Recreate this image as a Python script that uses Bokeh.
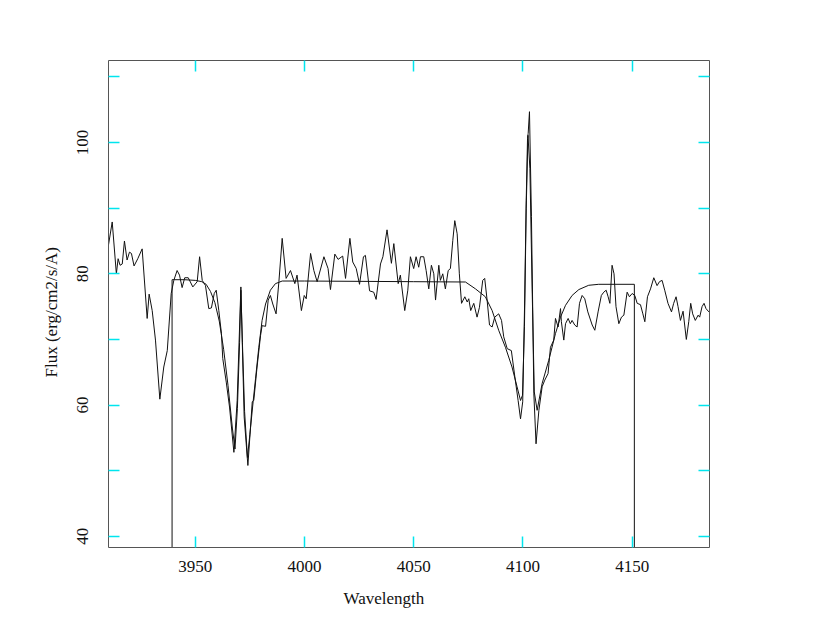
from bokeh.plotting import figure
from bokeh.models import LinearAxis, FixedTicker, Range1d, Title
from bokeh.embed import file_html
from bokeh.resources import INLINE

# observed spectrum
spec_x = [3910.1, 3912.0, 3913.9, 3914.7, 3915.6, 3916.6, 3917.6, 3918.8, 3919.9, 3920.8,
          3922.0, 3923.7, 3925.7, 3928.0, 3928.9, 3930.3, 3931.8, 3933.8, 3935.6, 3937.2,
          3939.0, 3940.2, 3941.7, 3942.8, 3944.0, 3945.2, 3946.8, 3948.9, 3950.9, 3952.0,
          3953.2, 3954.7, 3956.2, 3957.4, 3958.7, 3959.6, 3960.8, 3962.0, 3962.6, 3964.2,
          3965.7, 3967.7, 3969.2, 3970.9, 3972.4, 3974.1, 3976.1, 3976.8, 3978.3, 3979.9,
          3980.6, 3982.2, 3983.4, 3984.4, 3985.5, 3987.0, 3988.3, 3989.8, 3991.6, 3993.6,
          3995.6, 3996.6, 3998.6, 3999.9, 4000.8, 4002.8, 4004.3, 4005.8, 4008.9, 4010.8,
          4011.9, 4013.9, 4015.4, 4017.5, 4018.8, 4020.8, 4022.1, 4023.7, 4025.2, 4027.0,
          4027.9, 4029.8, 4031.7, 4032.8, 4034.8, 4035.9, 4037.8, 4039.8, 4040.9, 4042.9,
          4043.9, 4045.9, 4047.3, 4048.5, 4050.0, 4051.1, 4052.3, 4053.1, 4054.6, 4055.7,
          4056.9, 4058.1, 4059.2, 4060.0, 4061.5, 4062.2, 4063.3, 4064.5, 4065.8, 4066.8,
          4067.9, 4068.8, 4069.9, 4070.9, 4071.9, 4073.4, 4074.5, 4075.2, 4076.1, 4077.5,
          4079.0, 4080.1, 4081.6, 4082.5, 4083.6, 4084.7, 4085.9, 4087.1, 4088.9, 4090.2,
          4091.2, 4092.8, 4094.7, 4096.3, 4097.8, 4098.9, 4099.9, 4100.8, 4101.5, 4102.1,
          4102.4, 4103.0, 4103.9, 4105.0, 4106.0, 4107.3, 4108.8, 4110.0, 4111.5, 4112.6,
          4114.1, 4114.9, 4116.1, 4117.2, 4117.6, 4118.7, 4119.5, 4120.7, 4121.7, 4122.5,
          4123.7, 4124.8, 4125.9, 4127.1, 4128.3, 4129.7, 4131.7, 4132.9, 4134.4, 4135.9,
          4137.0, 4138.1, 4139.0, 4139.8, 4140.8, 4141.7, 4142.6, 4143.9, 4145.1, 4146.2,
          4147.7, 4148.75, 4150.0, 4151.2, 4152.3, 4153.8, 4154.9, 4155.8, 4157.0, 4158.4,
          4159.9, 4161.4, 4162.5, 4163.7, 4164.9, 4166.4, 4168.0, 4169.0, 4170.1, 4171.0,
          4172.1, 4173.3, 4174.8, 4175.9, 4176.8, 4177.7, 4178.9, 4180.2, 4180.9, 4182.0,
          4182.9, 4183.8, 4185.1]
spec_y = [84.0, 87.9, 80.0, 82.3, 81.3, 81.5, 85.0, 82.1, 83.3, 83.1,
          81.2, 82.3, 83.8, 73.2, 76.9, 74.4, 69.9, 60.9, 65.8, 68.3,
          77.0, 79.0, 80.5, 79.8, 77.9, 79.4, 79.4, 78.0, 78.8, 82.6,
          79.0, 78.2, 74.7, 74.8, 77.0, 77.5, 74.4, 70.9, 67.1, 63.5,
          59.7, 52.8, 60.7, 78.0, 58.2, 50.8, 60.5, 60.7, 65.8, 70.6,
          72.1, 72.0, 76.0, 76.7, 75.4, 73.9, 78.8, 85.4, 79.3, 80.5,
          78.5, 79.8, 74.4, 76.7, 76.2, 83.1, 80.5, 78.8, 82.6, 80.8,
          77.6, 83.0, 82.2, 82.7, 79.3, 85.4, 81.8, 80.8, 78.4, 82.6,
          82.8, 77.4, 77.2, 76.1, 81.5, 82.6, 86.7, 81.6, 84.6, 78.5,
          79.8, 74.4, 77.5, 82.6, 80.8, 82.6, 81.0, 82.6, 82.6, 80.5,
          77.7, 81.3, 80.0, 76.0, 81.3, 79.0, 80.0, 77.7, 80.5, 80.8,
          85.1, 88.1, 86.1, 80.0, 75.5, 76.5, 75.7, 76.2, 74.4, 75.5,
          73.4, 74.9, 79.0, 79.3, 76.0, 72.2, 71.9, 73.4, 73.9, 72.9,
          70.4, 68.6, 68.3, 64.3, 60.7, 57.9, 60.5, 76.0, 91.2, 100.6,
          101.4, 104.7, 88.7, 61.7, 54.1, 59.2, 62.8, 63.8, 64.8, 68.8,
          69.9, 73.2, 71.9, 74.7, 72.7, 69.9, 72.4, 73.2, 72.4, 72.9,
          72.2, 71.9, 75.5, 76.7, 76.2, 74.2, 72.2, 71.4, 74.2, 76.7,
          77.2, 77.5, 76.5, 75.5, 81.3, 80.0, 75.0, 72.4, 73.4, 73.7,
          77.2, 76.5, 77.0, 76.7, 75.5, 75.3, 73.9, 72.7, 76.5, 77.7,
          79.4, 78.2, 78.8, 79.0, 77.5, 75.5, 74.2, 75.5, 76.5, 75.0,
          72.9, 74.3, 70.0, 72.7, 75.5, 73.9, 72.9, 73.7, 73.4, 75.0,
          75.5, 74.7, 74.2]

# fitted model
model_x = [3939.4, 3939.4, 3945.0, 3950.0, 3953.0, 3955.0, 3957.0, 3959.0, 3961.0, 3963.0,
           3965.0, 3967.0, 3968.2, 3969.3, 3970.3, 3970.9, 3971.6, 3972.6, 3973.9, 3975.0,
           3976.5, 3977.6, 3979.1, 3980.6, 3982.2, 3984.4, 3986.7, 3989.8, 4000.0, 4025.0,
           4050.0, 4073.7, 4078.3, 4082.8, 4085.9, 4088.9, 4092.0, 4095.0, 4097.3, 4098.9,
           4099.8, 4100.7, 4101.5, 4102.3, 4103.2, 4104.2, 4105.2, 4106.5, 4108.8, 4111.8,
           4114.9, 4117.2, 4119.5, 4122.5, 4125.6, 4130.1, 4134.7, 4151.0, 4151.0]
model_y = [0.0, 79.1, 79.1, 79.0, 78.8, 78.4, 77.3, 75.6, 72.8, 68.5,
           63.0, 56.5, 53.3, 59.5, 69.5, 77.5, 69.5, 59.0, 52.0, 55.5,
           60.5, 64.0, 68.8, 72.9, 75.4, 77.5, 78.5, 78.9, 78.9, 78.85,
           78.8, 78.75, 77.7, 76.5, 74.4, 71.4, 68.8, 65.8, 62.8, 60.7,
           61.5, 72.0, 90.0, 101.1, 96.0, 78.0, 62.0, 59.2, 63.3, 66.8,
           70.9, 73.4, 75.2, 76.7, 77.6, 78.25, 78.4, 78.4, 0.0]

x_ticks = [3950, 4000, 4050, 4100, 4150]
y_ticks = [40, 50, 60, 70, 80, 90, 100, 110]
y_labels = {40: "40", 50: "", 60: "60", 70: "", 80: "80", 90: "", 100: "100", 110: ""}

FONT = "Liberation Serif"
AXIS_COLOR = "#555555"
TICK_COLOR = "#00e5ee"

p = figure(width=818, height=619, output_backend="svg", toolbar_location=None,
           x_range=Range1d(3910.3, 4185.4), y_range=Range1d(38.3, 112.5),
           x_axis_location=None, y_axis_location=None,
           min_border_left=108, min_border_right=109, min_border_top=60, min_border_bottom=72)
p.grid.visible = False
p.outline_line_color = None
p.background_fill_color = "white"
p.border_fill_color = "white"

p.line(spec_x, spec_y, line_color="#111111", line_width=1)
p.line(model_x, model_y, line_color="#111111", line_width=1)


def style(ax, show_labels):
    ax.axis_line_color = AXIS_COLOR
    ax.axis_line_width = 1
    ax.major_tick_line_color = TICK_COLOR
    ax.major_tick_line_width = 1.5
    ax.major_tick_in = 11
    ax.major_tick_out = 0
    ax.minor_tick_line_color = None
    ax.major_label_text_font = FONT
    ax.major_label_text_font_size = "17px"
    ax.major_label_text_color = "#111111" if show_labels else None


bottom = LinearAxis(ticker=FixedTicker(ticks=x_ticks))
style(bottom, True)
bottom.major_label_standoff = 13
p.add_layout(bottom, "below")

top = LinearAxis(ticker=FixedTicker(ticks=x_ticks))
style(top, False)
top.major_label_text_font_size = "1px"
p.add_layout(top, "above")

left = LinearAxis(ticker=FixedTicker(ticks=y_ticks), major_label_overrides=y_labels)
style(left, True)
left.major_label_orientation = "vertical"
left.major_label_standoff = 20
p.add_layout(left, "left")

right = LinearAxis(ticker=FixedTicker(ticks=y_ticks))
style(right, False)
right.major_label_text_font_size = "1px"
p.add_layout(right, "right")

xtitle = Title(text="Wavelength", text_font=FONT, text_font_size="17px", text_font_style="normal",
               text_color="#111111", align="left", offset=235, standoff=24)
ytitle = Title(text="Flux (erg/cm2/s/A)", text_font=FONT, text_font_size="17px", text_font_style="normal",
               text_color="#111111", align="left", offset=170, standoff=27)
p.add_layout(xtitle, "below")
p.add_layout(ytitle, "left")

open("out.html", "w").write(file_html(p, INLINE))
